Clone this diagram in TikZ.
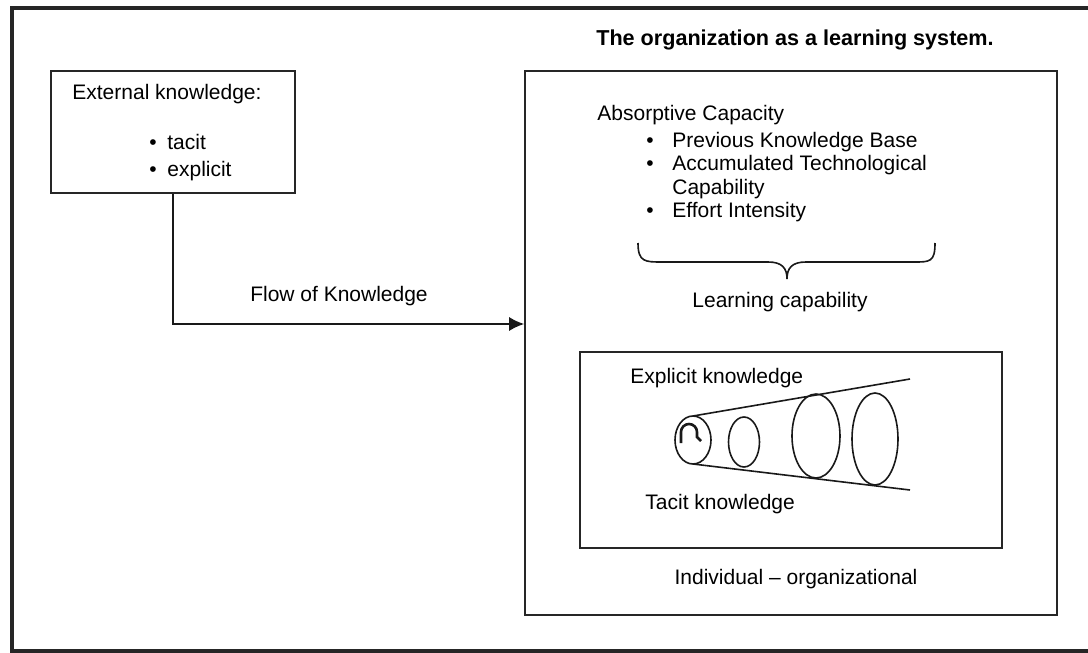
\documentclass[tikz,border=0pt]{standalone}
\usepackage{fontspec}
\setmainfont{Liberation Sans}
\usetikzlibrary{arrows.meta,positioning,calc}

\begin{document}
\begin{tikzpicture}[
    x=0.5pt, y=-0.5pt,
    font=\fontsize{10.5}{12.6}\selectfont,
    frame/.style={
        rectangle,
        draw=black!85,
        line width=0.8pt,
        inner sep=0pt
    },
    txt/.style={
        inner sep=0pt,
        anchor=base west
    },
    flow/.style={
        draw=black!90,
        line width=0.8pt,
        -{Latex[length=7.5pt,width=7pt]}
    },
    cone/.style={
        draw=black!90,
        line width=0.8pt
    }
]

    % Page
    \useasboundingbox (0,0) rectangle (1088,653);
    \clip (0,0) rectangle (1088,653);
    \draw [line width=1.6pt, black!85] (1100,8) -- (12,8) -- (12,651) -- (1100,651);

    % Boxes
    \node [frame, minimum width=122pt, minimum height=61pt] (ext) at (173,132) {};
    \node [frame, minimum width=266pt, minimum height=272pt] (org) at (791,343) {};
    \node [frame, minimum width=211pt, minimum height=98pt] (indiv) at (791,450) {};

    % External knowledge
    \node [txt] (extlabel) at (72,99) {External knowledge:};
    \node [txt] (bul1) at (149,149) {\textbullet};
    \node [txt] (tacit) at (167,149) {tacit};
    \node [txt] (bul2) at (149,176) {\textbullet};
    \node [txt] (explicit) at (167,176) {explicit};

    % Flow of knowledge
    \coordinate (bend) at (ext.south |- 0,324);
    \path [flow] (ext.south) -- (bend) -- (bend -| org.west);
    \node (flowlabel) at (339,296) {Flow of Knowledge};

    % Organization
    \node [font=\fontsize{10.8}{13}\bfseries] (title) at (795,40) {The organization as a learning system.};

    \node [txt] (absorb) at (597,120) {Absorptive Capacity};
    \node [txt] (bul3) at (646,147) {\textbullet};
    \node [txt] (prev) at (672,147) {Previous Knowledge Base};
    \node [txt] (bul4) at (646,170) {\textbullet};
    \node [txt] (accum) at (672,170) {Accumulated Technological};
    \node [txt] (capab) at (672,194) {Capability};
    \node [txt] (bul5) at (646,217) {\textbullet};
    \node [txt] (effort) at (672,217) {Effort Intensity};

    % Brace
    \draw [cone] (638,243) .. controls (638,262) and (645,262) .. (662,262)
        -- (768,262) .. controls (782,262) and (787,268) .. (787,279)
        .. controls (787,268) and (792,262) .. (806,262)
        -- (914,262) .. controls (930,262) and (935,262) .. (935,243);
    \node (learning) at (780,302) {Learning capability};

    % Individual - organizational
    \node [txt] (explabel) at (630,383) {Explicit knowledge};
    \node [txt] (taclabel) at (645,509) {Tacit knowledge};
    \draw [cone] (693,416) -- (910,379);
    \draw [cone] (693,464) -- (910,490);
    \draw [cone] (693,440) ellipse [x radius=18, y radius=24];
    \draw [cone] (744,442) ellipse [x radius=15.5, y radius=25];
    \draw [cone] (816,436) ellipse [x radius=24, y radius=42];
    \draw [cone] (875,439) ellipse [x radius=23, y radius=46];
    \draw [line width=1.3pt, black!90] (681,443) -- (681,432) arc [start angle=180, end angle=360, radius=8] -- (697,437) -- (701,441);
    \node (level) at (796,579) {Individual -- organizational};

\end{tikzpicture}
\end{document}
